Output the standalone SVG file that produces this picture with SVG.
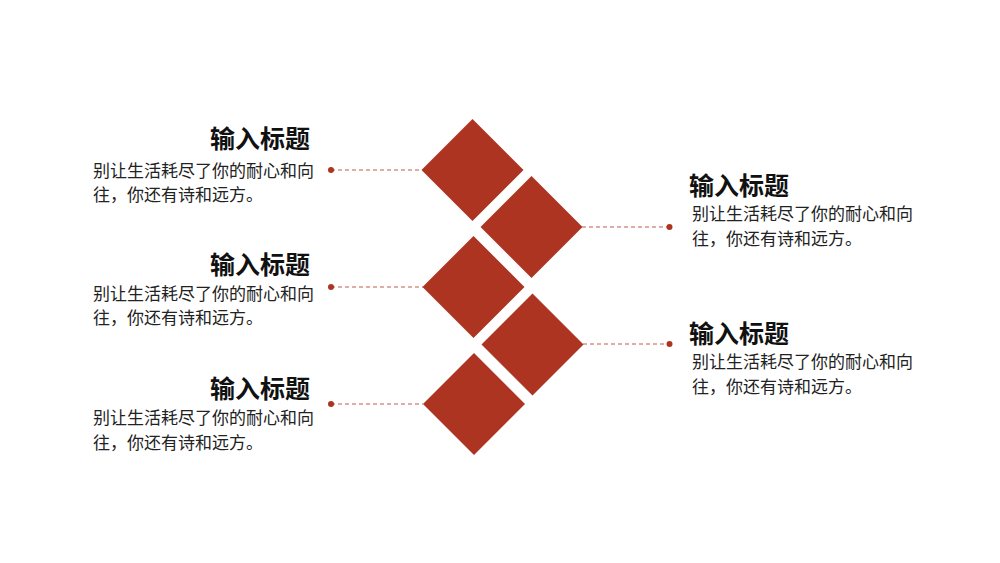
<svg xmlns="http://www.w3.org/2000/svg" width="1000" height="563" viewBox="0 0 1000 563">
<style>
.dia{fill:#AD3421;}
.ln{stroke:#C25A4C;stroke-width:1;stroke-dasharray:4 3;fill:none;}
.dot{fill:#AD3421;}
.t{font-family:"Noto Sans CJK SC","Noto Sans",sans-serif;font-weight:bold;font-size:25px;fill:#111;dominant-baseline:central;}
.b{font-family:"Noto Sans CJK SC","Noto Sans",sans-serif;font-size:17px;fill:#222;dominant-baseline:central;}
.r{text-anchor:end;}
</style>
<rect width="1000" height="563" fill="#fff"/>
<g id="connectors">
<line class="ln" x1="331" y1="170" x2="422" y2="170"/>
<circle class="dot" cx="331" cy="170" r="3"/>
<line class="ln" x1="582" y1="227" x2="669" y2="227"/>
<circle class="dot" cx="669.5" cy="227" r="3"/>
<line class="ln" x1="331" y1="287" x2="423" y2="287"/>
<circle class="dot" cx="331" cy="287" r="3"/>
<line class="ln" x1="583" y1="344" x2="669" y2="344"/>
<circle class="dot" cx="669.5" cy="344" r="3"/>
<line class="ln" x1="331" y1="404" x2="423" y2="404"/>
<circle class="dot" cx="331" cy="404" r="3"/>
</g>
<g id="d1"><polygon class="dia" points="472.5,119 523.5,170 472.5,221 421.5,170"/></g>
<g id="d2"><polygon class="dia" points="531.5,176 582.5,227 531.5,278 480.5,227"/></g>
<g id="d3"><polygon class="dia" points="473.5,236 524.5,287 473.5,338 422.5,287"/></g>
<g id="d4"><polygon class="dia" points="532.5,293.5 583.5,344.5 532.5,395.5 481.5,344.5"/></g>
<g id="d5"><polygon class="dia" points="474,353 525,404 474,455 423,404"/></g>
<g id="n1">
<text class="t r" x="310" y="136.5">输入标题</text>
<text class="b" x="93" y="169">别让生活耗尽了你的耐心和向</text>
<text class="b" x="93" y="193.5">往，你还有诗和远方。</text>
</g>
<g id="n2">
<text class="t r" x="310" y="262.5">输入标题</text>
<text class="b" x="93" y="292">别让生活耗尽了你的耐心和向</text>
<text class="b" x="93" y="316.5">往，你还有诗和远方。</text>
</g>
<g id="n3">
<text class="t r" x="310" y="387">输入标题</text>
<text class="b" x="93" y="416.5">别让生活耗尽了你的耐心和向</text>
<text class="b" x="93" y="441">往，你还有诗和远方。</text>
</g>
<g id="n4">
<text class="t" x="689" y="183.5">输入标题</text>
<text class="b" x="692" y="212">别让生活耗尽了你的耐心和向</text>
<text class="b" x="692" y="237">往，你还有诗和远方。</text>
</g>
<g id="n5">
<text class="t" x="689" y="331.5">输入标题</text>
<text class="b" x="692" y="360">别让生活耗尽了你的耐心和向</text>
<text class="b" x="692" y="385">往，你还有诗和远方。</text>
</g>
</svg>
